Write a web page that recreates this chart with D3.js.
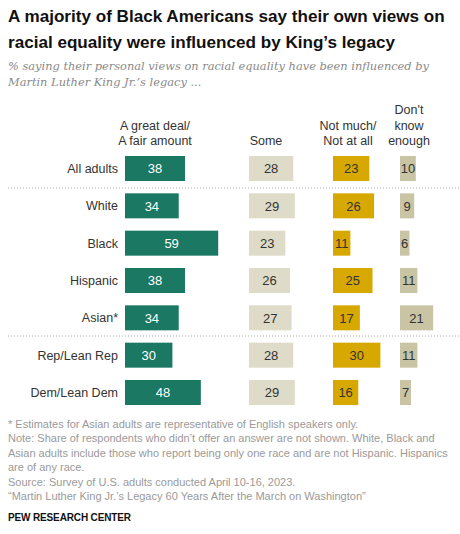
<!DOCTYPE html>
<html><head><meta charset="utf-8">
<script src="https://cdn.jsdelivr.net/npm/d3@7"></script>
<style>body{margin:0;background:#fff}svg{display:block}</style>
</head><body><div id="c"></div>
<script>
const categories = ["All adults","White","Black","Hispanic","Asian*","Rep/Lean Rep","Dem/Lean Dem"];
const seriesNames = [["A great deal/","A fair amount"],["Some"],["Not much/","Not at all"],["Don't","know","enough"]];
const greatDeal = [38,34,59,38,34,30,48];
const some = [28,29,23,26,27,28,29];
const notMuch = [23,26,11,25,17,30,16];
const dontKnow = [10,9,6,11,21,11,7];
const series = [greatDeal, some, notMuch, dontKnow];
const colors = ["#1b7862","#dedcc8","#d7a900","#c8c4a4"];
const textColors = ["#ffffff","#333","#333","#333"];

const W=460,H=534;
const svg=d3.select("#c").append("svg").attr("width",W).attr("height",H);
const font="'Liberation Sans', Arial, sans-serif";

// title
svg.append("text").attr("x",8).attr("y",22).attr("font-family",font).attr("font-weight","bold").attr("font-size",17.1).attr("fill","#111").text("A majority of Black Americans say their own views on");
svg.append("text").attr("x",8).attr("y",48).attr("font-family",font).attr("font-weight","bold").attr("font-size",17.1).attr("fill","#111").text("racial equality were influenced by King’s legacy");
const sub=["% saying their personal views on racial equality have been influenced by","Martin Luther King Jr.’s legacy ..."];
sub.forEach((s,i)=>svg.append("text").attr("x",8).attr("y",70+i*16).attr("font-family","'DejaVu Serif', Georgia, serif").attr("font-style","italic").attr("font-size",11.4).attr("fill","#8a8a8a").text(s));

const colStart=[125,249,333,400];
const x=d3.scaleLinear().domain([0,100]).range([0,158]);
const y=d3.scalePoint().domain(categories).range([168.5,392.5]);
const bh=25;

// headers
const hdrCenters=[155,266,348,409];
seriesNames.forEach((lines,j)=>{
  const n=lines.length;
  lines.forEach((l,k)=>{
    svg.append("text").attr("x",hdrCenters[j]).attr("y",145-(n-1-k)*15.5).attr("text-anchor","middle")
      .attr("font-family",font).attr("font-size",12.5).attr("fill","#333").text(l);
  });
});

// separators
[188,336].forEach(yy=>svg.append("line").attr("x1",8).attr("x2",460).attr("y1",yy).attr("y2",yy)
  .attr("stroke","#aaa").attr("stroke-dasharray","1,2").attr("stroke-width",1));

// row labels
svg.append("g").selectAll("text").data(categories).join("text")
  .attr("x",118).attr("y",d=>y(d)+4.5).attr("text-anchor","end")
  .attr("font-family",font).attr("font-size",12.5).attr("fill","#333").text(d=>d);

series.forEach((vals,j)=>{
  const g=svg.append("g");
  g.selectAll("rect").data(vals).join("rect")
    .attr("x",colStart[j]).attr("y",(d,i)=>y(categories[i])-bh/2)
    .attr("width",d=>x(d)).attr("height",bh).attr("fill",colors[j]);
  g.selectAll("text").data(vals).join("text")
    .attr("x",d=>colStart[j]+x(d)/2).attr("y",(d,i)=>y(categories[i])+4.7)
    .attr("text-anchor","middle").attr("font-family",font).attr("font-size",13)
    .attr("fill",textColors[j]).text(d=>d);
});

const notes=["* Estimates for Asian adults are representative of English speakers only.",
"Note: Share of respondents who didn’t offer an answer are not shown. White, Black and",
"Asian adults include those who report being only one race and are not Hispanic. Hispanics",
"are of any race.",
"Source: Survey of U.S. adults conducted April 10-16, 2023.",
"“Martin Luther King Jr.’s Legacy 60 Years After the March on Washington”"];
notes.forEach((s,i)=>svg.append("text").attr("x",8).attr("y",428+i*14.4).attr("font-family",font).attr("font-size",11).attr("fill","#9a9a9a").text(s));
svg.append("text").attr("x",8).attr("y",521).attr("font-family",font).attr("font-weight","bold").attr("font-size",10).attr("fill","#111").attr("textLength",123).text("PEW RESEARCH CENTER");
</script></body></html>
